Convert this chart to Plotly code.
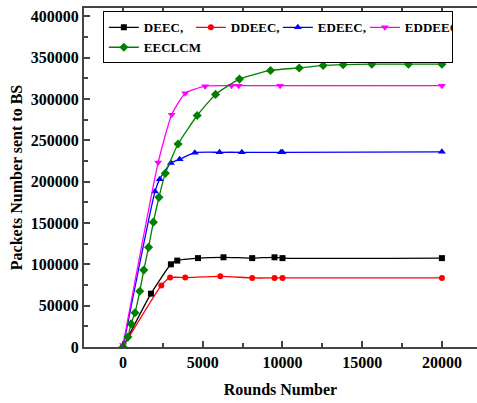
import plotly.graph_objects as go

deec_x = [0, 1750, 3000, 3400, 4700, 6300, 8100, 9500, 10000, 20000]
deec_y = [0, 64500, 100000, 104500, 107500, 108500, 107500, 108500, 107500, 107500]

ddeec_x = [0, 2400, 2950, 3900, 6100, 8100, 9500, 10000, 20000]
ddeec_y = [0, 74500, 84000, 84000, 85500, 83500, 83500, 83500, 83500]

edeec_x = [0, 2000, 2300, 3000, 3550, 4500, 6050, 7450, 9900, 10000, 20000]
edeec_y = [0, 188000, 203000, 222500, 227000, 235000, 235500, 235500, 235500, 235500, 236000]

eddeec_x = [0, 2200, 3050, 3900, 5150, 6800, 7250, 9850, 20000]
eddeec_y = [2500, 223000, 281000, 307000, 315500, 316000, 316000, 316000, 316000]

eeclcm_x = [0, 300, 500, 750, 1050, 1300, 1600, 1900, 2250, 2650, 3450, 4650, 5800,
            7300, 9250, 11050, 12550, 13800, 15600, 17900, 20000]
eeclcm_y = [0, 12000, 28000, 41500, 67500, 93000, 120500, 151000, 181000, 210000, 245500,
            280000, 305500, 324000, 334500, 337500, 340500, 341500, 342000, 342000, 342000]

series = [
    ("DEEC,", deec_x, deec_y, "#000000", "square", 6),
    ("DDEEC,", ddeec_x, ddeec_y, "#ff0000", "circle", 6),
    ("EDEEC,", edeec_x, edeec_y, "#0000ff", "triangle-up", 7),
    ("EDDEEC", eddeec_x, eddeec_y, "#ff00ff", "triangle-down", 7),
    ("EECLCM", eeclcm_x, eeclcm_y, "#008000", "diamond", 7),
]

fig = go.Figure()
for name, xs, ys, col, sym, sz in series:
    fig.add_trace(go.Scatter(
        x=xs, y=ys, name=name, mode="lines+markers",
        line=dict(color=col, width=1.3, shape="spline", smoothing=0.5),
        marker=dict(symbol=sym, size=sz, color=col),
    ))

serif = "'Liberation Serif', 'Times New Roman', Times, serif"
axis_common = dict(
    showgrid=False, zeroline=False, showline=True, linecolor="#444", linewidth=2,
    ticks="inside", tickcolor="#444", tickwidth=1.5, tickformat="d",
    tickfont=dict(family=serif, size=16, color="black", weight="bold"),
)

fig.update_layout(
    width=477, height=403,
    margin=dict(l=84, r=0, t=8, b=56),
    paper_bgcolor="white", plot_bgcolor="white",
    showlegend=True,
    legend=dict(
        orientation="h", x=0.048, y=0.99, xanchor="left", yanchor="top",
        bordercolor="black", borderwidth=1, bgcolor="white",
        font=dict(family=serif, size=13, color="black", weight="bold"),
        tracegroupgap=0, entrywidth=42, entrywidthmode="pixels",
    ),
    xaxis=dict(
        range=[-2450, 22200], dtick=5000, tick0=0, ticklen=6, mirror="allticks",
        minor=dict(dtick=2500, tick0=0, ticks="inside", ticklen=4, tickcolor="#444"),
        title=dict(text="Rounds Number", standoff=14,
                   font=dict(family=serif, size=16, color="black", weight="bold")),
        **axis_common,
    ),
    yaxis=dict(
        range=[0, 410000], dtick=50000, tick0=0, ticklen=6, mirror=False,
        minor=dict(dtick=25000, tick0=0, ticks="inside", ticklen=4, tickcolor="#444"),
        title=dict(text="Packets Number sent to BS", standoff=4,
                   font=dict(family=serif, size=16, color="black", weight="bold")),
        **axis_common,
    ),
)

fig.write_html("out.html")
